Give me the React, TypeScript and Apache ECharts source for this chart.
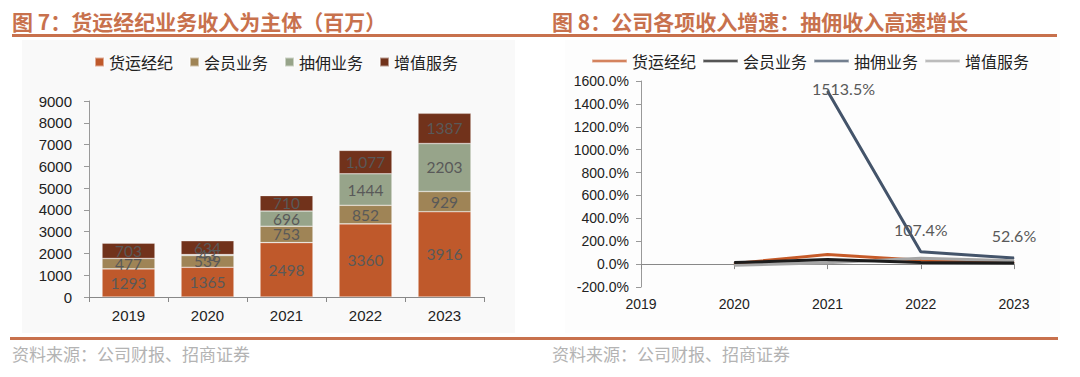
import React, { useEffect, useRef } from 'react';
import * as echarts from 'echarts';

// ---- data ----
const years = ['2019', '2020', '2021', '2022', '2023'];
const seriesNames = ['货运经纪', '会员业务', '抽佣业务', '增值服务'];

const freight = [1293, 1365, 2498, 3360, 3916];
const member = [477, 539, 753, 852, 929];
const commission = [0, 43, 696, 1444, 2203];
const valueAdded = [703, 634, 710, 1077, 1387];
const valueAddedLabels = ['703', '634', '710', '1,077', '1387'];

const freightGrowth = [null, 5.6, 83.0, 34.5, 16.5];
const memberGrowth = [null, 13.0, 39.7, 13.1, 9.0];
const commissionGrowth = [null, null, 1513.5, 107.4, 52.6];
const commissionGrowthLabels = ['', '', '1513.5%', '107.4%', '52.6%'];
const valueAddedGrowth = [null, -9.8, 12.0, 51.7, 28.8];

const leftTicks = { min: 0, max: 9000, interval: 1000 };
const rightTicks = { min: -200, max: 1600, interval: 200 };

// ---- styles ----
const barColors = ['#bf592b', '#9f8456', '#97a48a', '#71321b'];
const lineColors = ['#c65a28', '#1c1c1c', '#44546a', '#a6a6a6'];
const accent = '#c8714d';
const numFont = '"Liberation Sans", Arial, sans-serif';
const cjkFont = '"Noto Sans CJK SC", sans-serif';
const labelFont = 'Lato, "Noto Sans", sans-serif';

export default function App() {
  const ref = useRef<HTMLDivElement>(null);

  useEffect(() => {
    if (!ref.current) return;
    const chart = echarts.init(ref.current, undefined, { renderer: 'svg' });

    const barLabel = (texts?: string[]) => ({
      show: true,
      position: 'inside',
      color: '#595959',
      fontSize: 15.5,
      fontFamily: labelFont,
      formatter: (p: any) => (p.value === 0 ? '' : texts ? texts[p.dataIndex] : String(p.value)),
    });

    const barData = [freight, member, commission, valueAdded];
    const growthData = [freightGrowth, memberGrowth, commissionGrowth, valueAddedGrowth];

    const barSeries = barData.map((d, i) => ({
      name: seriesNames[i],
      type: 'bar',
      stack: 'total',
      xAxisIndex: 0,
      yAxisIndex: 0,
      barWidth: '67%',
      itemStyle: { color: barColors[i], borderColor: 'rgba(255,255,255,0.5)', borderWidth: 0.6 },
      label: barLabel(i === 3 ? valueAddedLabels : undefined),
      data: d,
    }));

    const lineSeries = growthData.map((d, i) => ({
      name: seriesNames[i],
      type: 'line',
      xAxisIndex: 1,
      yAxisIndex: 1,
      symbol: 'circle',
      symbolSize: 1,
      showSymbol: true,
      lineStyle: { color: lineColors[i], width: 3 },
      itemStyle: { color: lineColors[i] },
      z: i === 1 ? 4 : 3,
      label:
        i === 2
          ? {
              show: true,
              position: 'top',
              distance: 14,
              color: '#595959',
              fontSize: 16,
              fontFamily: labelFont,
              formatter: (p: any) => commissionGrowthLabels[p.dataIndex],
            }
          : { show: false },
      data: d.map((v, j) =>
        i === 2 && j === 2
          ? { value: v, label: { position: 'right', distance: 0, offset: [-16, -2] } }
          : v
      ),
    }));

    const axisLabelStyle = (size: number) => ({ color: '#222', fontSize: size, fontFamily: numFont });
    const footer = '资料来源：公司财报、招商证券';

    chart.setOption({
      animation: false,
      backgroundColor: '#ffffff',
      textStyle: { fontFamily: cjkFont },
      legend: [
        {
          data: seriesNames.map((n, i) => ({ name: n, itemStyle: { color: barColors[i] } })),
          left: 89,
          top: 49,
          icon: 'rect',
          itemWidth: 9,
          itemHeight: 9,
          itemGap: 16,
          textStyle: { fontSize: 16, color: '#222', fontFamily: cjkFont },
          selectedMode: false,
        },
        {
          data: seriesNames.map((n, i) => ({ name: n, itemStyle: { color: lineColors[i] } })),
          left: 586,
          top: 48,
          icon: 'rect',
          itemWidth: 35,
          itemHeight: 3,
          itemGap: 6,
          textStyle: { fontSize: 16, color: '#222', fontFamily: cjkFont },
          selectedMode: false,
        },
      ],
      grid: [
        { left: 89, right: 596, top: 101, bottom: 80 },
        { left: 641, right: 66, top: 81, bottom: 90 },
      ],
      xAxis: [
        {
          type: 'category',
          gridIndex: 0,
          data: years,
          axisLine: { lineStyle: { color: '#888', width: 1 } },
          axisTick: { show: true, length: 5, lineStyle: { color: '#888' } },
          axisLabel: { ...axisLabelStyle(15), margin: 11 },
        },
        {
          type: 'category',
          gridIndex: 1,
          data: years,
          boundaryGap: false,
          axisLine: { onZero: true, lineStyle: { color: '#888', width: 1 } },
          axisTick: { show: true, length: 5, lineStyle: { color: '#888' } },
          axisLabel: { ...axisLabelStyle(14), margin: 10 },
        },
      ],
      yAxis: [
        {
          type: 'value',
          gridIndex: 0,
          ...leftTicks,
          axisLine: { show: true, lineStyle: { color: '#999' } },
          axisTick: { show: true, length: 5, lineStyle: { color: '#999' } },
          splitLine: { show: false },
          axisLabel: { ...axisLabelStyle(15), margin: 17, formatter: (v: number) => String(v) },
        },
        {
          type: 'value',
          gridIndex: 1,
          ...rightTicks,
          axisLine: { show: true, lineStyle: { color: '#999' } },
          axisTick: { show: true, length: 5, lineStyle: { color: '#999' } },
          splitLine: { show: false },
          axisLabel: { ...axisLabelStyle(14), margin: 12, formatter: (v: number) => v.toFixed(1) + '%' },
        },
      ],
      graphic: [
        { type: 'rect', z: -10, shape: { x: 22, y: 40, width: 493, height: 293 }, style: { fill: '#f9f9f9' } },
        { type: 'rect', z: -10, shape: { x: 565, y: 40, width: 495, height: 293 }, style: { fill: '#fdfdfd' } },
        {
          type: 'text',
          x: 12,
          y: 21,
          style: {
            text: '图 7：货运经纪业务收入为主体（百万）',
            font: `bold 21px ${cjkFont}`,
            fill: accent,
            verticalAlign: 'middle',
          },
        },
        {
          type: 'text',
          x: 552,
          y: 21,
          style: {
            text: '图 8：公司各项收入增速：抽佣收入高速增长',
            font: `bold 21px ${cjkFont}`,
            fill: accent,
            verticalAlign: 'middle',
          },
        },
        { type: 'rect', shape: { x: 12, y: 34, width: 1045, height: 3 }, style: { fill: accent } },
        { type: 'rect', shape: { x: 10, y: 337, width: 1048, height: 3 }, style: { fill: accent } },
        {
          type: 'text',
          x: 12,
          y: 353,
          style: { text: footer, font: `17px ${cjkFont}`, fill: '#b3b3b3', verticalAlign: 'middle' },
        },
        {
          type: 'text',
          x: 552,
          y: 353,
          style: { text: footer, font: `17px ${cjkFont}`, fill: '#b3b3b3', verticalAlign: 'middle' },
        },
      ],
      series: [...barSeries, ...lineSeries],
    });

    return () => chart.dispose();
  }, []);

  return (
    <div
      ref={ref}
      style={{ position: 'absolute', left: 0, top: 0, width: 1080, height: 377 }}
    />
  );
}
